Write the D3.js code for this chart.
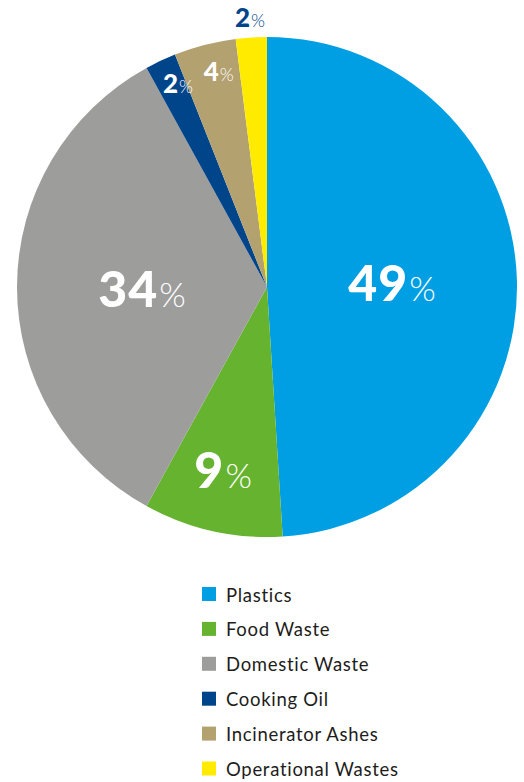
<!DOCTYPE html>
<html>
<head>
<meta charset="utf-8">
<script src="https://cdn.jsdelivr.net/npm/d3@7"></script>
<style>
  html, body { margin: 0; padding: 0; background: #ffffff; }
  svg { display: block; }
</style>
</head>
<body>
<svg id="chart" width="524" height="782"></svg>
<script>
// Waste composition by category (percent of total)
const categories = ["Plastics", "Food Waste", "Domestic Waste", "Cooking Oil", "Incinerator Ashes", "Operational Wastes"];
const shares = [49, 9, 34, 2, 4, 2];
const colors = ["#009fe3", "#65b32e", "#9d9d9c", "#00448a", "#b3a16f", "#ffeb00"];

const svg = d3.select("#chart");
const cx = 267, cy = 287, R = 250;

const data = categories.map((name, i) => ({ name, value: shares[i], color: colors[i] }));

const pie = d3.pie().value(d => d.value).sort(null).startAngle(0).endAngle(2 * Math.PI);
const arcs = pie(data);
const arc = d3.arc().innerRadius(0).outerRadius(R);

const g = svg.append("g").attr("transform", `translate(${cx},${cy})`);

g.selectAll("path.slice")
  .data(arcs)
  .join("path")
  .attr("class", "slice")
  .attr("d", arc)
  .attr("fill", d => d.data.color);

// Label placement: radius from the centre, size, colour and small nudges
const labelStyle = {
  "Plastics":           { r: 125, size: 50, pct: 34, fill: "#fff", dx: 0,  dy: 0 },
  "Food Waste":         { r: 192, size: 50, pct: 34, fill: "#fff", dx: -2, dy: -4 },
  "Domestic Waste":     { r: 125, size: 50, pct: 34, fill: "#fff", dx: 0,  dy: 2 },
  "Cooking Oil":        { r: 222, size: 26, pct: 18, fill: "#fff", dx: 5.5, dy: -2.5 },
  "Incinerator Ashes":  { r: 222, size: 26, pct: 18, fill: "#fff", dx: 7,  dy: 0 },
  "Operational Wastes": { r: 270, size: 26, pct: 18, fill: "#00448a", dx: 0, dy: 0 }
};

arcs.forEach(d => {
  const s = labelStyle[d.data.name];
  const mid = (d.startAngle + d.endAngle) / 2;
  const x = s.r * Math.sin(mid) + s.dx;
  const y = -s.r * Math.cos(mid) + s.dy + s.size * 0.36;
  const t = g.append("text")
    .attr("x", x)
    .attr("y", y)
    .attr("text-anchor", "middle")
    .attr("fill", s.fill)
    .attr("font-family", "Lato, 'Noto Sans', sans-serif");
  t.append("tspan")
    .attr("font-size", s.size)
    .attr("font-weight", 900)
    .attr("letter-spacing", s.size * 0.02)
    .text(d.data.value);
  t.append("tspan")
    .attr("font-size", s.pct)
    .attr("font-weight", 300)
    .attr("dx", s.size * 0.02)
    .text("%");
});

// Legend
const legendX = 202, legendY = 587, rowH = 34.9, box = 14;
const legend = svg.append("g").attr("transform", `translate(${legendX},${legendY})`);
const rows = legend.selectAll("g.row")
  .data(data)
  .join("g")
  .attr("class", "row")
  .attr("transform", (d, i) => `translate(0,${i * rowH})`);

rows.append("rect")
  .attr("width", box)
  .attr("height", box)
  .attr("fill", d => d.color);

rows.append("text")
  .attr("x", 24)
  .attr("y", 14.5)
  .attr("font-family", "Lato, 'Noto Sans', sans-serif")
  .attr("font-size", 18.5)
  .attr("font-weight", 400)
  .attr("letter-spacing", 0.7)
  .attr("fill", "#1d1d1b")
  .text(d => d.name);
</script>
</body>
</html>
